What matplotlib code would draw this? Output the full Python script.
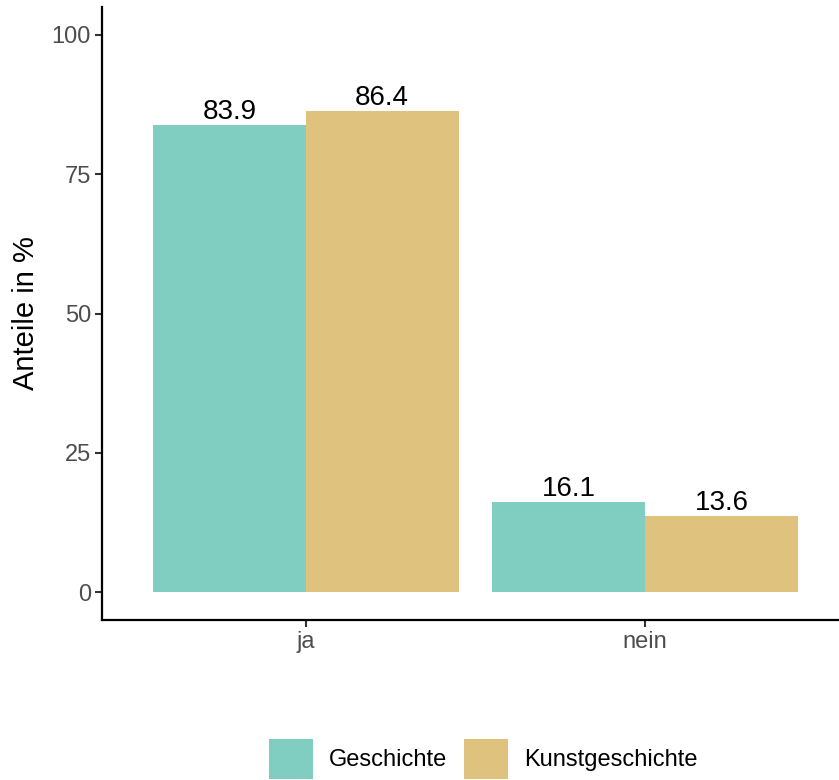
import matplotlib.pyplot as plt
import numpy as np

plt.rcParams["font.family"] = ["Liberation Sans", "DejaVu Sans"]

categories = ["ja", "nein"]
groups = ["Geschichte", "Kunstgeschichte"]
geschichte = [83.9, 16.1]
kunstgeschichte = [86.4, 13.6]
colors = ["#80CDC1", "#DFC27D"]

W, H = 839, 780
fig = plt.figure(figsize=(W / 100, H / 100), dpi=100)
ax = fig.add_axes([102 / W, (H - 620) / H, (W - 102) / W, (620 - 7) / H])

x = np.arange(1, len(categories) + 1)
width = 0.45
for vals, off, col, lab in [(geschichte, -width / 2, colors[0], groups[0]),
                            (kunstgeschichte, width / 2, colors[1], groups[1])]:
    bars = ax.bar(x + off, vals, width, color=col, label=lab)
    for b, v in zip(bars, vals):
        ax.annotate(f"{v:.1f}", (b.get_x() + b.get_width() / 2, v),
                    xytext=(0, 0), textcoords="offset points",
                    ha="center", va="bottom", fontsize=20, color="black")

ax.set_xlim(0.4, 1 + (W - 305) / 340)
ax.set_ylim(-5, 105)
ax.set_xticks(x)
ax.set_xticklabels(categories)
ax.set_yticks([0, 25, 50, 75, 100])
ax.tick_params(axis="both", labelsize=17, colors="#4D4D4D", length=5, width=1.5, pad=3)
ax.tick_params(axis="both", color="#333333")
for s in ["top", "right"]:
    ax.spines[s].set_visible(False)
for s in ["left", "bottom"]:
    ax.spines[s].set_linewidth(1.6)
ax.set_ylabel("Anteile in %", fontsize=21, labelpad=8)

handles, labels = ax.get_legend_handles_labels()
fig.legend(handles, labels, loc="center", bbox_to_anchor=(483 / W, 1 - 759 / H),
           ncol=2, frameon=False, fontsize=17, handlelength=1.86, handleheight=2.2,
           handletextpad=0.68, columnspacing=0.72)

fig.savefig("out.png", dpi=100)
